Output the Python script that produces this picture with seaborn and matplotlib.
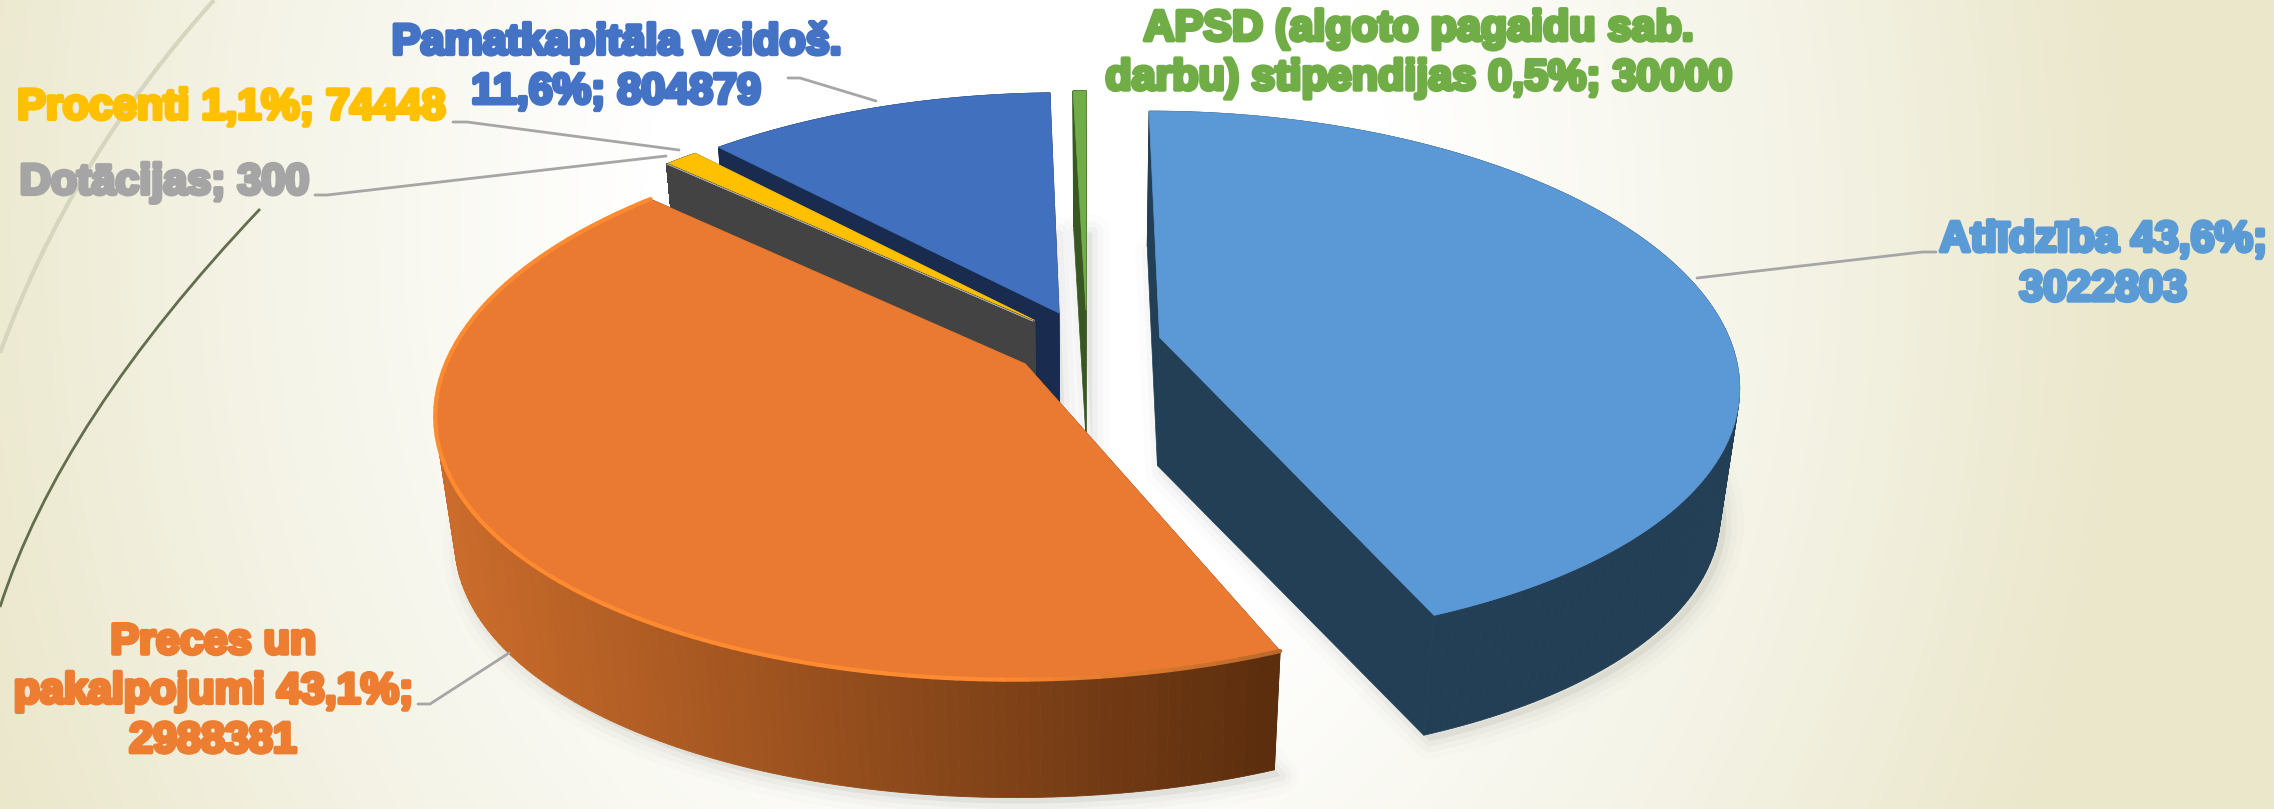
import numpy as np
import matplotlib
matplotlib.use("Agg")
import matplotlib.pyplot as plt
import matplotlib.patheffects as pe
from matplotlib.colors import LinearSegmentedColormap, to_rgb
from matplotlib.patches import PathPatch, Polygon
from matplotlib.path import Path
import seaborn as sns

# Data, clockwise from 12 o'clock
categories = ["Atlīdzība", "Preces un pakalpojumi", "Dotācijas", "Procenti",
              "Pamatkapitāla veidoš.", "APSD"]
values = [3022803, 2988381, 300, 74448, 804879, 30000]
labels = ["Atlīdzība 43,6%;\n3022803",
          "Preces un\npakalpojumi 43,1%;\n2988381",
          "Dotācijas; 300",
          "Procenti 1,1%; 74448",
          "Pamatkapitāla veidoš.\n11,6%; 804879",
          "APSD (algoto pagaidu sab.\ndarbu) stipendijas 0,5%; 30000"]

top_colors = ["#5B98D6", "#EA7A31", "#A5A5A5", "#FFC000", "#4170BF", "#70AD47"]
wall_colors = ["#233F55", "#5C2E0E", "#434343", "#434343", "#1A2B50", "#385723"]
text_colors = ["#5B9BD5", "#ED7D31", "#A5A5A5", "#FFC000", "#4472C4", "#70AD47"]
label_xy = [(2103, 265), (213, 692), (164, 183), (231, 108), (616, 67), (1418, 54)]
leaders = [[(1936, 252), (1922, 252), (1697, 278)],
           [(418, 704), (430, 704), (509, 653)],
           [(315, 195), (327, 195), (666, 156)],
           [(453, 122), (467, 122), (679, 150)],
           [(788, 78), (800, 78), (876, 101)]]

# pie geometry, in output pixels
CX, CY = 1087, 344
RX, RY = 572, 262
PERSP_X, PERSP_Y = 0.17, 0.15
EXPLODE = 0.13
DEPTH = 128
BOTTOM_SCALE = 0.97
DRAW_ORDER = [5, 4, 3, 2, 1, 0]

sns.set_theme(style="white")
plt.rcParams["font.family"] = ["Liberation Sans", "DejaVu Sans"]

W, H = 2274, 809
fig = plt.figure(figsize=(W / 100, H / 100), dpi=100)
ax = fig.add_axes([0, 0, 1, 1])
ax.set_xlim(0, W)
ax.set_ylim(H, 0)
ax.axis("off")

# cream to white background
xx, yy = np.meshgrid(np.arange(W), np.arange(H))
dist = np.sqrt(((xx - 1020) / 1120) ** 2 + ((yy - 230) / 1400) ** 2)
bg_cmap = LinearSegmentedColormap.from_list("bg", ["#FFFFFF", "#FFFFFF", "#F5F4E8", "#EBE7CB"])
ax.imshow(np.clip(dist, 0, 1), cmap=bg_cmap, vmin=0, vmax=1, extent=(0, W, H, 0),
          aspect="auto", zorder=0)

# decorative curves on the left
ax.add_patch(PathPatch(Path([(214, 0), (70, 160), (0, 353)], [Path.MOVETO, Path.CURVE3, Path.CURVE3]),
                       fc="none", ec="#D6D6BE", lw=3, zorder=1))
ax.add_patch(PathPatch(Path([(260, 209), (60, 420), (0, 607)], [Path.MOVETO, Path.CURVE3, Path.CURVE3]),
                       fc="none", ec="#626E4E", lw=2, zorder=1))


def project(u, v, bottom=False):
    x = RX * u / (1 - PERSP_X * v)
    y = RY * v / (1 - PERSP_Y * v)
    if bottom:
        return np.column_stack([CX + x * BOTTOM_SCALE, CY + y * BOTTOM_SCALE + DEPTH])
    return np.column_stack([CX + x, CY + y])


def mix(c1, c2, t):
    return tuple((1 - t) * a + t * b for a, b in zip(to_rgb(c1), to_rgb(c2)))


fracs = np.array(values) / sum(values)
edges = np.concatenate([[0], np.cumsum(fracs)]) * 2 * np.pi

z = 2
for i in DRAW_ORDER:
    a0, a1 = edges[i], edges[i + 1]
    mid = (a0 + a1) / 2
    du, dv = EXPLODE * np.sin(mid), -EXPLODE * np.cos(mid)
    ang = np.linspace(a0, a1, 160)
    u = du + np.sin(ang)
    v = dv - np.cos(ang)
    top_arc = project(u, v)
    bot_arc = project(u, v, bottom=True)
    apex_top = project(np.array([du]), np.array([dv]))
    apex_bot = project(np.array([du]), np.array([dv]), bottom=True)

    # soft shadow around the solid
    outline = np.vstack([apex_bot, bot_arc])
    for lw, alpha in [(26, 0.025), (16, 0.04), (8, 0.06)]:
        ax.add_patch(Polygon(outline + [6, 6], closed=True, fc="#8A8A80", ec="#8A8A80", lw=lw,
                             alpha=alpha, zorder=z, joinstyle="round"))
    z += 1

    # the two radial walls
    for k in (0, -1):
        ax.add_patch(Polygon(np.vstack([apex_top, top_arc[k], bot_arc[k], apex_bot]),
                             closed=True, fc=wall_colors[i], ec=wall_colors[i], lw=0.5, zorder=z))
    z += 1

    # outer rim, orange one runs from light on the left to dark on the right
    for s in range(len(ang) - 1):
        if i == 1:
            t = np.clip((top_arc[s, 0] - 440) / (1276 - 440), 0, 1)
            col = mix("#CB6C2B", "#5C2E0E", t)
        else:
            col = wall_colors[i]
        ax.add_patch(Polygon(np.vstack([top_arc[s], top_arc[s + 1], bot_arc[s + 1], bot_arc[s]]),
                             closed=True, fc=col, ec=col, lw=0.6, zorder=z))
    z += 1

    ax.add_patch(Polygon(np.vstack([apex_top, top_arc]), closed=True, fc=top_colors[i],
                         ec=top_colors[i], lw=0.5, zorder=z))
    z += 1

    # bevel highlight along the front of the orange slice
    if i == 1:
        for s in range(0, len(ang) - 1, 2):
            seg = top_arc[s:s + 3]
            t = np.clip((top_arc[s, 0] - 1000) / 280, 0, 1)
            ax.plot(seg[:, 0], seg[:, 1], color=mix("#FF8A30", "#B96A2C", t), lw=3,
                    solid_capstyle="round", zorder=z)
        z += 1

# leader lines
for pts in leaders:
    pts = np.array(pts)
    ax.plot(pts[:, 0], pts[:, 1], color="#A6A6A6", lw=2, zorder=z)

# data labels, thickened like the heavy WordArt text
for txt, xy, col in zip(labels, label_xy, text_colors):
    ax.text(xy[0], xy[1], txt, color=col, fontsize=31, fontweight="bold", ha="center", va="center",
            linespacing=1.3, zorder=z + 1,
            path_effects=[pe.withStroke(linewidth=3, foreground=col)])

fig.savefig("out.png", dpi=100)
plt.close(fig)
